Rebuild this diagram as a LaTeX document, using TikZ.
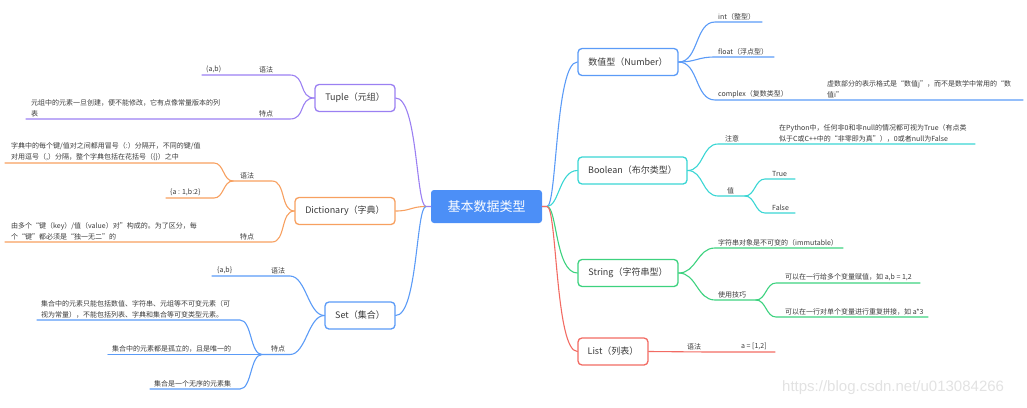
\documentclass[tikz,border=0pt]{standalone}
\usepackage{fontspec}
\setmainfont{Noto Sans CJK SC}
\newfontfamily\wmfont{Liberation Sans}
\usepackage{xcolor}
\usetikzlibrary{positioning}
\definecolor{ink}{HTML}{3A3A3A}
\definecolor{rootblue}{HTML}{4C8FF7}
\definecolor{numblue}{HTML}{5B9BF7}
\definecolor{boolteal}{HTML}{3AD6D4}
\definecolor{strgreen}{HTML}{3DD27F}
\definecolor{listred}{HTML}{F26B63}
\definecolor{tuppurple}{HTML}{9B80F2}
\definecolor{dictorange}{HTML}{F7A060}
\definecolor{wmgray}{HTML}{E2E2E2}
\tikzset{
  every node/.style={font=\fontsize{7}{10.5}\selectfont,text=ink,inner sep=1pt},
  rootbox/.style={fill=rootblue,rounded corners=3pt,text=white,font=\fontsize{13}{15}\selectfont,minimum width=111pt,minimum height=33pt},
  topic/.style={draw,line width=1.3pt,rounded corners=4pt,fill=white,font=\fontsize{9}{11}\selectfont,minimum height=27pt,inner xsep=5pt},
  leaf/.style={anchor=south west,align=left},
  branch/.style={line width=1.1pt,line cap=round},
  watermark/.style={font=\wmfont\fontsize{15}{17}\selectfont,text=wmgray,anchor=south west}
}
\begin{document}
\begin{tikzpicture}[x=1pt,y=-1pt]
  \useasboundingbox (0,0) rectangle (1027,407);

  % centre and main topics
  \node[rootbox] (root) at (486.5,206.5) {基本数据类型};
  \coordinate (rj) at (547,206.5);
  \coordinate (lj) at (426,206.5);

  \node[topic,draw=numblue,minimum width=100pt] (num) at (628,62) {数值型（Number）};
  \node[topic,draw=boolteal,minimum width=109pt] (bool) at (632.5,170.5) {Boolean（布尔类型）};
  \node[topic,draw=strgreen,minimum width=100pt] (str) at (628,273) {String（字符串型）};
  \node[topic,draw=listred,minimum width=70pt] (list) at (613,351.5) {List（列表）};
  \node[topic,draw=tuppurple,minimum width=80pt] (tup) at (355,98) {Tuple（元组）};
  \node[topic,draw=dictorange,minimum width=100pt] (dict) at (345,211) {Dictionary（字典）};
  \node[topic,draw=numblue,minimum width=70pt] (set) at (360,315.5) {Set（集合）};

  \draw[branch,numblue] (root.east) -- (rj) .. controls +(10,0) and +(-22,0) .. (num.west);
  \draw[branch,boolteal] (rj) .. controls +(12,0) and +(-18,0) .. (bool.west);
  \draw[branch,strgreen] (rj) .. controls +(10,0) and +(-22,0) .. (str.west);
  \draw[branch,listred] (root.east) -- (rj) .. controls +(10,0) and +(-22,0) .. (list.west);
  \draw[branch,tuppurple] (root.west) -- (lj) .. controls +(-10,0) and +(22,0) .. (tup.east);
  \draw[branch,dictorange] (lj) .. controls +(-15,0) and +(15,0) .. (dict.east);
  \draw[branch,numblue] (lj) .. controls +(-10,0) and +(22,0) .. (set.east);

  % Number
  \coordinate (intS) at (715,22);   \coordinate (intE) at (762,22);
  \coordinate (floatS) at (715,57); \coordinate (floatE) at (774,57);
  \coordinate (cplxS) at (715,100); \coordinate (cplxJ) at (795,100); \coordinate (cplxE) at (1023,100);
  \node[leaf] (int) at (717,21) {int（整型）};
  \node[leaf] (float) at (717,56) {float（浮点型）};
  \node[leaf] (cplx) at (717,99) {complex（复数类型）};
  \node[leaf] (cplxnote) at (826,99) {虚数部分的表示格式是“数值j”，而不是数学中常用的“数\\值i”};
  \draw[branch,numblue] (num.east) .. controls +(20,0) and +(-20,0) .. (intS) -- (intE);
  \draw[branch,numblue] (num.east) .. controls +(18,0) and +(-18,0) .. (floatS) -- (floatE);
  \draw[branch,numblue] (num.east) .. controls +(20,0) and +(-20,0) .. (cplxS) -- (cplxJ) -- (cplxE);

  % Boolean
  \coordinate (noteS) at (718,144); \coordinate (noteJ) at (747,144); \coordinate (noteE) at (975,144);
  \coordinate (valS) at (718,196);  \coordinate (valJ) at (745,196);
  \coordinate (trueS) at (765,179); \coordinate (trueE) at (795,179);
  \coordinate (falseS) at (765,213); \coordinate (falseE) at (795,213);
  \node[leaf] (note) at (724,143) {注意};
  \node[leaf] (notetext) at (778,143) {在Python中，任何非0和非null的情况都可视为True（有点类\\似于C或C++中的“非零即为真”），0或者null为False};
  \node[leaf] (val) at (726,195) {值};
  \node[leaf] (true) at (771,178) {True};
  \node[leaf] (false) at (771,212) {False};
  \draw[branch,boolteal] (bool.east) .. controls +(16,0) and +(-16,0) .. (noteS) -- (noteJ) -- (noteE);
  \draw[branch,boolteal] (bool.east) .. controls +(16,0) and +(-16,0) .. (valS) -- (valJ);
  \draw[branch,boolteal] (valJ) .. controls +(10,0) and +(-10,0) .. (trueS) -- (trueE);
  \draw[branch,boolteal] (valJ) .. controls +(10,0) and +(-10,0) .. (falseS) -- (falseE);

  % String
  \coordinate (immS) at (715,248); \coordinate (immE) at (843,248);
  \coordinate (tipS) at (715,300); \coordinate (tipJ) at (756,300);
  \coordinate (multiS) at (776,283); \coordinate (multiE) at (920,283);
  \coordinate (repS) at (776,317);   \coordinate (repE) at (928,317);
  \node[leaf] (imm) at (717,247) {字符串对象是不可变的（immutable）};
  \node[leaf] (tip) at (717,299) {使用技巧};
  \node[leaf] (multi) at (784,282) {可以在一行给多个变量赋值，如 a,b = 1,2};
  \node[leaf] (rep) at (784,316) {可以在一行对单个变量进行重复拼接，如 a*3};
  \draw[branch,strgreen] (str.east) .. controls +(18,0) and +(-18,0) .. (immS) -- (immE);
  \draw[branch,strgreen] (str.east) .. controls +(18,0) and +(-18,0) .. (tipS) -- (tipJ);
  \draw[branch,strgreen] (tipJ) .. controls +(10,0) and +(-10,0) .. (multiS) -- (multiE);
  \draw[branch,strgreen] (tipJ) .. controls +(10,0) and +(-10,0) .. (repS) -- (repE);

  % List
  \coordinate (lsynJ) at (708,352); \coordinate (lsynE) at (775,352);
  \node[leaf] (lsyn) at (686,351) {语法};
  \node[leaf] (lval) at (740,351) {a = [1,2]};
  \draw[branch,listred] (list.east) -- (lsynJ) -- (lsynE);

  % Tuple
  \coordinate (tsynS) at (290,75);  \coordinate (tsynE) at (202,75);
  \coordinate (tfeaS) at (290,119); \coordinate (tfeaE) at (26,119);
  \node[leaf] (tsyn) at (258,74) {语法};
  \node[leaf] (tval) at (205,74) {(a,b)};
  \node[leaf] (tfea) at (258,118) {特点};
  \node[leaf] (tnote) at (30,118) {元组中的元素一旦创建，便不能修改，它有点像常量版本的列\\表};
  \draw[branch,tuppurple] (tup.west) .. controls +(-16,0) and +(16,0) .. (tsynS) -- (tsynE);
  \draw[branch,tuppurple] (tup.west) .. controls +(-16,0) and +(16,0) .. (tfeaS) -- (tfeaE);

  % Dictionary
  \coordinate (dsynS) at (272,181); \coordinate (dsynJ) at (233,181);
  \coordinate (dnoteS) at (214,163); \coordinate (dnoteE) at (5,163);
  \coordinate (dvalS) at (214,198);  \coordinate (dvalE) at (166,198);
  \coordinate (dfeaS) at (272,242);  \coordinate (dfeaE) at (5,242);
  \node[leaf] (dsyn) at (239,180) {语法};
  \node[leaf] (dnote) at (10,162) {字典中的每个键/值对之间都用冒号（:）分隔开，不同的键/值\\对用逗号（,）分隔，整个字典包括在花括号（\{\}）之中};
  \node[leaf] (dval) at (169,197) {\{a : 1,b:2\}};
  \node[leaf] (dfea) at (239,241) {特点};
  \node[leaf] (dfeanote) at (10,241) {由多个“键（key）/值（value）对”构成的。为了区分，每\\个“键”都必须是“独一无二”的};
  \draw[branch,dictorange] (dict.west) .. controls +(-14,0) and +(14,0) .. (dsynS) -- (dsynJ);
  \draw[branch,dictorange] (dsynJ) .. controls +(-10,0) and +(10,0) .. (dnoteS) -- (dnoteE);
  \draw[branch,dictorange] (dsynJ) .. controls +(-10,0) and +(10,0) .. (dvalS) -- (dvalE);
  \draw[branch,dictorange] (dict.west) .. controls +(-14,0) and +(14,0) .. (dfeaS) -- (dfeaE);

  % Set
  \coordinate (ssynS) at (290,276); \coordinate (ssynE) at (212,276);
  \coordinate (sfeaS) at (290,354.5); \coordinate (sfeaJ) at (262,354.5);
  \coordinate (s1S) at (240,320); \coordinate (s1E) at (37,320);
  \coordinate (s2E) at (108,354.5);
  \coordinate (s3S) at (240,389); \coordinate (s3E) at (150,389);
  \node[leaf] (ssyn) at (270,275) {语法};
  \node[leaf] (sval) at (216,275) {\{a,b\}};
  \node[leaf] (sfea) at (270,353.5) {特点};
  \node[leaf] (s1) at (40,319) {集合中的元素只能包括数值、字符串、元组等不可变元素（可\\视为常量），不能包括列表、字典和集合等可变类型元素。};
  \node[leaf] (s2) at (111,353.5) {集合中的元素都是孤立的，且是唯一的};
  \node[leaf] (s3) at (153,388) {集合是一个无序的元素集};
  \draw[branch,numblue] (set.west) .. controls +(-16,0) and +(16,0) .. (ssynS) -- (ssynE);
  \draw[branch,numblue] (set.west) .. controls +(-16,0) and +(16,0) .. (sfeaS) -- (sfeaJ);
  \draw[branch,numblue] (sfeaJ) .. controls +(-12,0) and +(12,0) .. (s1S) -- (s1E);
  \draw[branch,numblue] (sfeaJ) -- (s2E);
  \draw[branch,numblue] (sfeaJ) .. controls +(-12,0) and +(12,0) .. (s3S) -- (s3E);

  \node[watermark] (wm) at (781,396) {https://blog.csdn.net/u013084266};
\end{tikzpicture}
\end{document}
